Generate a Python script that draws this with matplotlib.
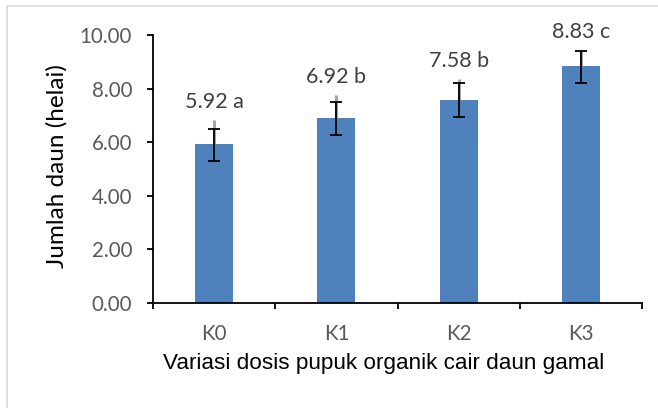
import matplotlib.pyplot as plt
from matplotlib.patches import Rectangle
from matplotlib.ticker import FormatStrFormatter, FixedLocator

# Rata-rata jumlah daun per perlakuan
perlakuan = ["K0", "K1", "K2", "K3"]
rata_rata = [5.92, 6.92, 7.58, 8.83]
notasi = ["a", "b", "b", "c"]
galat_bawah = [0.62, 0.65, 0.65, 0.62]
galat_atas = [0.57, 0.59, 0.62, 0.58]
garis_abu = [0.91, 0.84, 0.78, 0.58]

W, H = 658, 408
fig = plt.figure(figsize=(W / 100, H / 100), dpi=100)
ax = fig.add_axes([153 / W, 1 - 303 / H, (642 - 153) / W, (303 - 35) / H])

x = list(range(len(perlakuan)))
ax.bar(x, rata_rata, width=0.31, color="#4F81BD", zorder=2)

# garis abu-abu (plus saja) di bawah error bar hitam
ax.errorbar(x, rata_rata, yerr=[[0] * 4, garis_abu], fmt="none",
            ecolor="#A6A6A6", elinewidth=2.2, capsize=0, zorder=3)
ax.errorbar(x, rata_rata, yerr=[galat_bawah, galat_atas], fmt="none",
            ecolor="black", elinewidth=1.3, capsize=4.3, capthick=1.3, zorder=4)

for xi, v, n, g in zip(x, rata_rata, notasi, garis_abu):
    ax.annotate(f"{v:.2f} {n}", (xi, v + g), xytext=(0, 6),
                textcoords="offset points", ha="center", va="bottom",
                fontsize=15.5, family="Lato", color="#404040")

ax.set_xlim(-0.5, 3.5)
ax.set_ylim(0, 10)
ax.set_yticks([0, 2, 4, 6, 8, 10])
ax.yaxis.set_major_formatter(FormatStrFormatter("%.2f"))
ax.set_xticks(x)
ax.set_xticklabels(perlakuan)
ax.xaxis.set_minor_locator(FixedLocator([-0.5, 0.5, 1.5, 2.5, 3.5]))

for s in ["top", "right"]:
    ax.spines[s].set_visible(False)
for s in ["left", "bottom"]:
    ax.spines[s].set_linewidth(1.3)

ax.tick_params(axis="y", direction="out", length=4, width=1.3, pad=11,
               labelsize=14.8, labelcolor="#595959")
ax.tick_params(axis="x", which="major", length=0, pad=15,
               labelsize=14.8, labelcolor="#595959")
ax.tick_params(axis="x", which="minor", direction="out", length=4.5, width=1.3)
for lab in ax.get_xticklabels() + ax.get_yticklabels():
    lab.set_family("Lato")

fig.text(57 / W, 1 - 166 / H, "Jumlah daun (helai)", rotation=90,
         ha="center", va="center", fontsize=17.5, family="Lato")
fig.text(384 / W, 1 - 363 / H, "Variasi dosis pupuk organik cair daun gamal",
         ha="center", va="center", fontsize=16.2, family="Liberation Sans")

# bingkai luar grafik
fig.patches.append(Rectangle((7 / W, -0.1), 1.2, 1.1 - 6 / H, transform=fig.transFigure,
                             fill=False, edgecolor="#D9D9D9", linewidth=1.2))

fig.savefig("out.png", dpi=100)
